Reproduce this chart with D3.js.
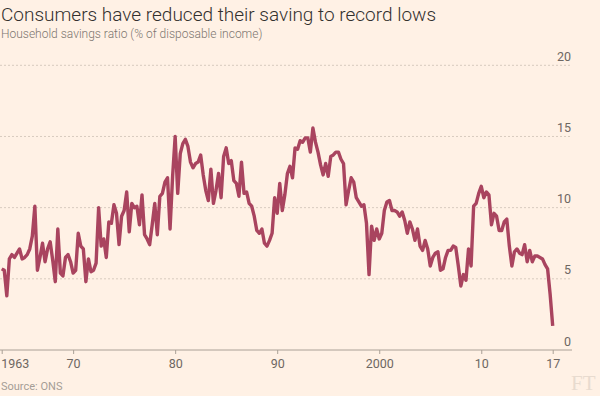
<!DOCTYPE html>
<html>
<head>
<meta charset="utf-8">
<script src="https://cdn.jsdelivr.net/npm/d3@7"></script>
<style>
  body { margin: 0; background: #fff1e5; }
  svg { display: block; }
  .axis text { font-family: Roboto, sans-serif; font-size: 12.5px; fill: #6e6762; }
  .axis line { stroke: #aaa096; }
</style>
</head>
<body>
<div id="chart"></div>
<script>
// quarterly household savings ratio, 1963 Q1 to 2017 Q1
var startYear = 1963;
var savingsRatio = [
  5.7, 5.6, 3.8, 6.4, 6.7, 6.5, 6.8, 7.1, 6.4, 6.5,
  6.7, 7.1, 8.0, 10.1, 5.6, 6.5, 7.5, 6.2, 7.1, 7.6,
  6.3, 4.8, 8.5, 5.4, 5.2, 6.5, 6.7, 6.2, 5.4, 5.6,
  8.2, 7.3, 7.1, 4.8, 6.4, 5.5, 5.6, 6.1, 10.0, 7.3,
  7.8, 6.5, 9.0, 8.9, 10.2, 9.6, 7.4, 9.4, 9.8, 11.1,
  8.3, 10.3, 10.0,
  10.1, 8.8, 10.9, 8.1, 7.8, 7.4, 8.8, 10.3, 8.1, 10.8,
  11.0, 11.8, 12.1, 8.5, 12.2, 15.0, 11.0, 13.8, 14.5, 14.8,
  14.3, 13.2, 12.8, 13.1, 13.2, 13.7, 12.3, 11.2, 10.5, 12.7,
  10.3, 11.2, 12.4, 10.7, 13.6, 14.2, 13.1, 13.3, 11.9, 11.7,
  10.8, 13.2, 11.0, 11.1, 10.3, 10.1, 9.4, 8.4, 8.2, 8.5,
  7.5, 7.3, 7.7,
  8.2, 10.7, 9.6, 11.7, 9.8, 10.9, 12.4, 12.9, 12.1, 14.2,
  14.1, 14.7, 14.6, 14.9, 14.9, 13.9, 15.6, 14.6, 13.9, 13.0,
  12.3, 13.1, 12.2, 13.6, 13.7, 13.9, 13.9, 13.4, 13.1,
  10.2, 11.2, 12.1, 11.8, 10.7, 10.4, 10.1, 10.2, 8.9, 5.3,
  8.7, 7.7, 8.5, 7.8, 8.2, 9.8, 10.4, 10.5, 9.8, 9.8,
  9.7, 9.4, 9.7, 9.1, 8.2,
  9.0, 8.5, 7.7, 8.5, 7.3, 7.0, 7.7, 7.1, 5.9, 6.5,
  6.8, 6.9, 5.6, 5.7, 6.5, 7.0, 7.0, 7.3, 7.2, 5.9,
  4.5, 5.3, 4.9, 7.1, 5.9, 10.1, 10.3, 11.0, 11.5, 10.7,
  11.1, 10.9, 8.8, 9.6, 9.4, 8.4, 8.4, 9.0, 9.2, 7.3,
  5.9, 6.9, 7.1, 6.8, 6.7, 7.4, 6.2, 7.0, 6.2, 6.6,
  6.6, 6.5, 6.4, 6.0, 5.7, 3.9, 1.7
];
var yTicks = [0, 5, 10, 15, 20];
var xTicks = [1963, 1970, 1980, 1990, 2000, 2010, 2017];
var xTickLabels = ["1963", "70", "80", "90", "2000", "10", "17"];

var width = 600,
    height = 396;

var data = savingsRatio.map(function(v, i){
    return {date: startYear + i / 4, value: v};
});

var svg = d3.select("#chart").append("svg")
    .attr("width", width)
    .attr("height", height);

var x = d3.scaleLinear()
    .domain([1963, 2017])
    .range([1.7, 552.7]);

var y = d3.scaleLinear()
    .domain([0, 20])
    .range([350, 65.3]);

// title + subtitle
svg.append("text")
    .attr("x", 1)
    .attr("y", 21)
    .style("font-family", "Roboto, sans-serif")
    .style("font-weight", 300)
    .style("font-size", "19px")
    .style("fill", "#33302e")
    .text("Consumers have reduced their saving to record lows");

svg.append("text")
    .attr("x", 1)
    .attr("y", 38)
    .style("font-family", "Roboto, sans-serif")
    .style("font-weight", 300)
    .style("font-size", "12px")
    .style("fill", "#7d7670")
    .text("Household savings ratio (% of disposable income)");

// dotted gridlines
svg.selectAll(".grid")
    .data(yTicks.filter(function(d){ return d > 0; }))
    .enter().append("line")
    .attr("class", "grid")
    .attr("x1", 0)
    .attr("x2", 572)
    .attr("y1", function(d){ return y(d); })
    .attr("y2", function(d){ return y(d); })
    .style("stroke", "#d8cbbf")
    .style("stroke-dasharray", "2,2");

// y labels sit above their line, right side
svg.selectAll(".ylabel")
    .data(yTicks)
    .enter().append("text")
    .attr("class", "ylabel")
    .attr("x", 571)
    .attr("y", function(d){ return y(d) - 4.5; })
    .style("text-anchor", "end")
    .style("font-family", "Roboto, sans-serif")
    .style("font-size", "12.5px")
    .style("fill", "#6e6762")
    .text(function(d){ return d; });

// x axis
var xAxis = d3.axisBottom(x)
    .tickValues(xTicks)
    .tickSize(4)
    .tickPadding(5)
    .tickFormat(function(d, i){ return xTickLabels[i]; });

var gx = svg.append("g")
    .attr("class", "x axis")
    .attr("transform", "translate(0," + y(0) + ")")
    .call(xAxis);

gx.select(".domain").remove();
gx.append("line")
    .attr("x1", 0)
    .attr("x2", 572)
    .style("stroke", "#aaa096");
gx.selectAll(".tick text")
    .filter(function(d){ return d == 1963; })
    .style("text-anchor", "start")
    .attr("x", -1);

// the line
var line = d3.line()
    .x(function(d){ return x(d.date); })
    .y(function(d){ return y(d.value); });

svg.append("path")
    .datum(data)
    .attr("d", line)
    .style("fill", "none")
    .style("stroke", "#a9445f")
    .style("stroke-width", 3.4)
    .style("stroke-linejoin", "round");

// footer
svg.append("text")
    .attr("x", 1)
    .attr("y", 390)
    .style("font-family", "Roboto, sans-serif")
    .style("font-size", "11px")
    .style("fill", "#a59d96")
    .text("Source: ONS");

svg.append("text")
    .attr("x", 571)
    .attr("y", 390)
    .style("font-family", "'Liberation Serif', 'DejaVu Serif', serif")
    .style("font-size", "21px")
    .style("fill", "#e8dbcf")
    .text("FT");
</script>
</body>
</html>
